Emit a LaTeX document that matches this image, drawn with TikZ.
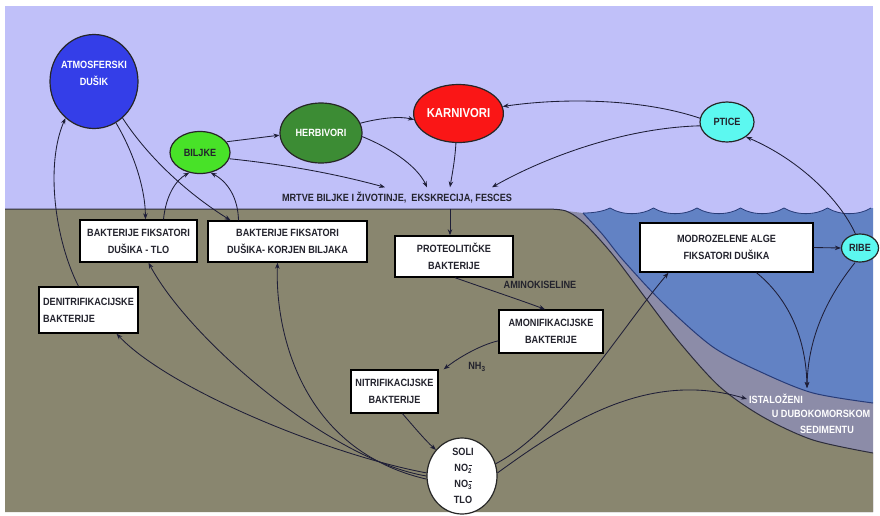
\documentclass[tikz,border=0pt]{standalone}
\usepackage{fontspec}
\setmainfont{Liberation Sans}[FakeStretch=0.87]
\usetikzlibrary{arrows.meta,shapes.geometric,calc}
\definecolor{sky}{RGB}{192,192,249}
\definecolor{soil}{RGB}{137,134,111}
\definecolor{sea}{RGB}{98,130,196}
\definecolor{sed}{RGB}{140,140,168}
\definecolor{lin}{RGB}{30,30,55}
\definecolor{edgec}{RGB}{45,45,60}
\definecolor{seaedge}{RGB}{40,60,120}
\definecolor{atmc}{RGB}{52,62,232}
\definecolor{bilc}{RGB}{72,226,40}
\definecolor{herc}{RGB}{60,140,52}
\definecolor{karc}{RGB}{250,22,22}
\definecolor{cyc}{RGB}{92,248,240}
\definecolor{txt}{RGB}{35,35,45}
\newcommand{\nox}[1]{NO\makebox[0pt][l]{\hspace{0.5pt}\rule[5.5pt]{3.2pt}{0.8pt}}\raisebox{-1.5pt}{\fontsize{7}{7}\selectfont #1}}
\begin{document}
\begin{tikzpicture}[x=1pt,y=-1pt,
  font=\fontsize{10.5}{17}\selectfont\bfseries,
  box/.style={draw=black, line width=1.4pt, fill=white, align=center, inner sep=0pt, text=txt},
  ell/.style={ellipse, draw=black!85, line width=1.2pt, inner sep=0pt, text=txt},
  arr/.style={draw=lin, line width=0.85pt, -{Stealth[length=6pt,width=4.5pt]}},
  lbl/.style={text=txt, inner sep=0pt},
  wlbl/.style={text=white, inner sep=2pt},
  edge/.style={draw=edgec, line width=1pt}]
\useasboundingbox (0,0) rectangle (880,515);
\fill[white] (0,0) rectangle (880,515);
\fill[sky] (5,6) rectangle (873,512);
% sediment
\fill[sed] (550,209) -- plot[smooth] coordinates {(583,213) (603,235) (623,260) (663,303) (713,347) (763,373) (813,393) (873,403)} -- (873,512) -- (550,512) -- cycle;
% sea
\fill[sea] (583,213) .. controls (595,213) and (604,211) .. (610,208)
  \foreach \c in {610,653.5,697,740.5,784,827.5}{ .. controls (\c+12,215.5) and (\c+31.5,215.5) .. (\c+43.5,208)}
  -- (873,208) -- (873,403) -- plot[smooth] coordinates {(873,403) (813,393) (763,373) (713,347) (663,303) (623,260) (603,235) (583,213)} -- cycle;
\draw[seaedge, line width=0.8pt] (583,213) .. controls (595,213) and (604,211) .. (610,208)
  \foreach \c in {610,653.5,697,740.5,784,827.5}{ .. controls (\c+12,215.5) and (\c+31.5,215.5) .. (\c+43.5,208)};
% soil
\fill[soil] (5,209) -- (545,209) -- plot[smooth] coordinates {(545,209) (566,211) (585,224) (613,255) (647,300) (680,343) (720,387) (763,417) (813,440) (873,453)} -- (873,512) -- (5,512) -- cycle;
\draw[edge] (5,209) -- (545,209) -- plot[smooth] coordinates {(545,209) (566,211) (585,224) (613,255) (647,300) (680,343) (720,387) (763,417) (813,440) (873,453)};
\draw[edge, draw=seaedge] plot[smooth] coordinates {(583,213) (603,235) (623,260) (663,303) (713,347) (763,373) (813,393) (873,403)};

% ellipses
\node[ell, fill=atmc, minimum width=88, minimum height=94] (atm) at (94,81.5) {};
\node[wlbl, align=center, inner sep=0pt] (atmtxt) at (94,73) {ATMOSFERSKI\\DUŠIK};
\node[ell, fill=bilc, minimum width=60, minimum height=42] (bil) at (200,152.5) {BILJKE};
\node[ell, fill=herc, minimum width=82, minimum height=60, text=white] (her) at (321,133) {HERBIVORI};
\node[ell, fill=karc, minimum width=88, minimum height=58, text=white, font=\fontsize{13}{15}\selectfont\bfseries] (kar) at (458.5,113.5) {KARNIVORI};
\node[ell, fill=cyc, minimum width=54, minimum height=40] (pti) at (727,122) {PTICE};
\node[ell, fill=cyc, minimum width=37, minimum height=28] (rib) at (860,248) {RIBE};
\node[ell, fill=white, minimum width=70, minimum height=76] (sol) at (462,476) {};
\node[lbl, align=center, font=\fontsize{10.5}{16}\selectfont\bfseries] (soltxt) at (463,476)
  {SOLI\\\nox{2}\\\nox{3}\\TLO};

% boxes
\node[box, minimum width=117, minimum height=42] (tlo) at (138.5,241) {BAKTERIJE FIKSATORI\\DUŠIKA - TLO};
\node[box, minimum width=159, minimum height=41] (kor) at (287.5,241.5) {BAKTERIJE FIKSATORI\\DUŠIKA- KORJEN BILJAKA};
\node[box, minimum width=99, minimum height=46, align=left] (den) at (88.5,310) {DENITRIFIKACIJSKE\\BAKTERIJE};
\node[box, minimum width=118, minimum height=41] (pro) at (454,256.5) {PROTEOLITIČKE\\BAKTERIJE};
\node[box, minimum width=104, minimum height=43] (amo) at (551,331.5) {AMONIFIKACIJSKE\\BAKTERIJE};
\node[box, minimum width=87, minimum height=43] (nit) at (394.5,391.5) {NITRIFIKACIJSKE\\BAKTERIJE};
\node[box, minimum width=173, minimum height=49] (mod) at (726.5,247.5) {MODROZELENE ALGE\\FIKSATORI DUŠIKA};

% labels
\node[lbl, inner ysep=5pt] (mrtve) at (397,198) {MRTVE BILJKE I ŽIVOTINJE,\ \ EKSKRECIJA, FESCES};
\node[lbl] (amino) at (540,285) {AMINOKISELINE};
\node[lbl] (nh) at (477,367) {NH\textsubscript{3}};
\node[wlbl] (ist1) at (776,399) {ISTALOŽENI};
\node[wlbl] (ist2) at (821,414) {U DUBOKOMORSKOM};
\node[wlbl] (ist3) at (827,430) {SEDIMENTU};
\coordinate (dep) at (807,388);

% connectors
\draw[arr] (atm.-62) .. controls (132,150) and (145,185) .. ([xshift=7pt]tlo.north);
\draw[arr] (atm.-52) .. controls (150,160) and (190,195) .. ([xshift=-57pt]kor.north);
\draw[arr] ([xshift=-10pt]den.north) .. controls (55,240) and (45,165) .. (atm.-128);
\draw[arr] ([xshift=25pt]tlo.north) .. controls (166,195) and (176,180) .. (bil.-118);
\draw[arr] ([xshift=-49pt]kor.north) .. controls (238,198) and (228,182) .. (bil.-62);
\draw[arr] (bil.22) -- (her.183);
\draw[arr] (bil.-12) .. controls (290,165) and (340,175) .. ([xshift=-12pt]mrtve.north);
\draw[arr] (her.14) .. controls (380,118) and (400,116) .. (kar.188);
\draw[arr] (her.-5) .. controls (395,150) and (418,168) .. ([xshift=30pt]mrtve.north);
\draw[arr] (kar.-95) .. controls (455,160) and (452,175) .. ([xshift=53pt]mrtve.north);
\draw[arr] (pti.172) .. controls (640,98) and (560,98) .. (kar.9);
\draw[arr] (pti.188) .. controls (620,128) and (540,160) .. ([xshift=95pt]mrtve.north);
\draw[arr] (rib.108) .. controls (840,200) and (800,160) .. (pti.-38);
\draw[arr] (mod.east) -- (rib.west);
\draw[arr] ([xshift=53pt]mrtve.south) -- ([xshift=-4pt]pro.north);
\draw[arr] ([xshift=1pt]pro.south) .. controls (490,290) and (520,300) .. ([xshift=-6pt]amo.north);
\draw[arr] (amo.-170) .. controls (480,345) and (458,358) .. ([xshift=5pt]nit.north east);
\draw[arr] ([xshift=8pt]nit.south) .. controls (415,428) and (425,440) .. (sol.135);
\draw[arr] (sol.175) .. controls (330,455) and (170,390) .. ([xshift=28pt]den.south);
\draw[arr] (sol.180) .. controls (330,460) and (190,340) .. ([xshift=10pt]tlo.south);
\draw[arr] (sol.185) .. controls (300,450) and (275,330) .. ([xshift=-10pt]kor.south);
\draw[arr] (sol.20) .. controls (560,430) and (620,330) .. ([xshift=-58pt]mod.south);
\draw[arr] (sol.5) .. controls (570,420) and (650,370) .. (ist1.west);
\draw[arr] ([xshift=30pt]mod.south) .. controls (790,300) and (806,340) .. (dep);
\draw[arr] ([xshift=-5pt]rib.south) .. controls (825,300) and (808,340) .. (dep);
\end{tikzpicture}
\end{document}
